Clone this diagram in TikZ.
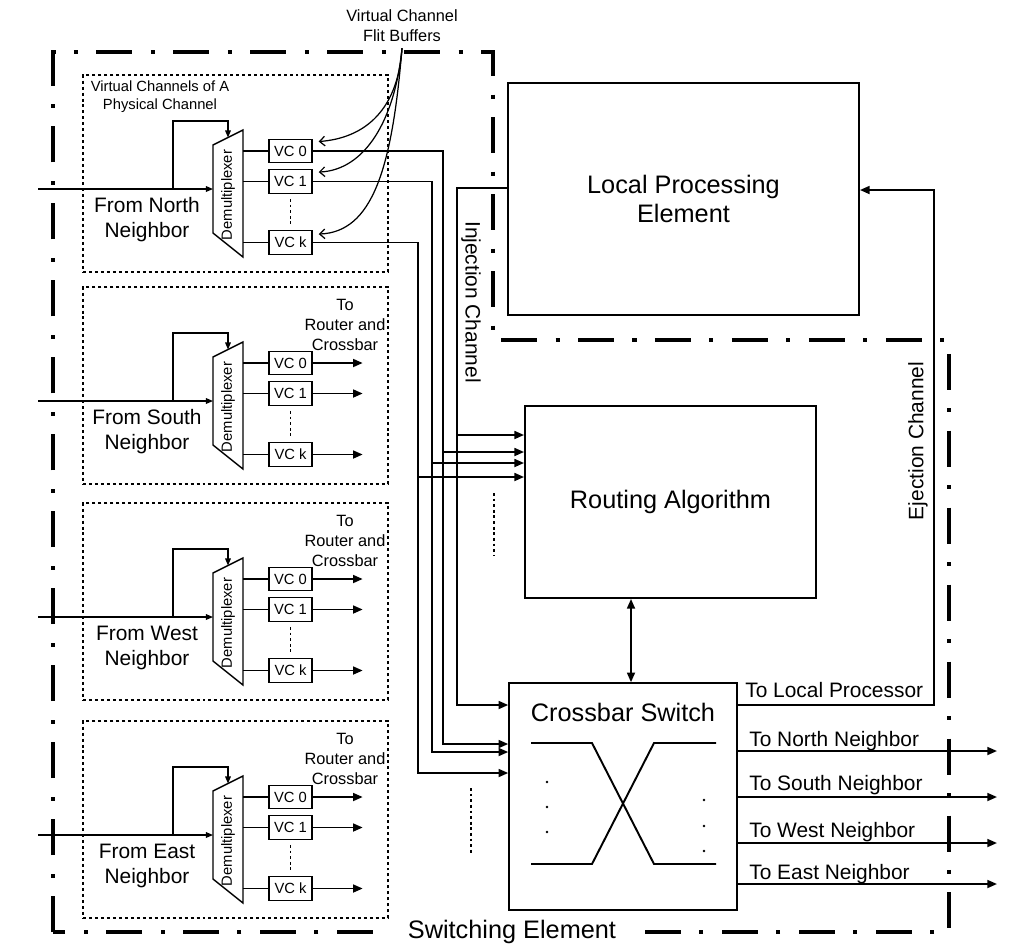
\documentclass[tikz,border=0pt]{standalone}
\usepackage{fontspec}
\setmainfont{Liberation Sans}
\usepackage{tikz}
\usetikzlibrary{arrows.meta,calc}
\newcommand{\fsBig}{\fontsize{14.4}{16.5}\selectfont}
\newcommand{\fsMid}{\fontsize{11.9}{14.2}\selectfont}
\newcommand{\fsLbl}{\fontsize{9.3}{11.4}\selectfont}
\newcommand{\fsVC}{\fontsize{8.4}{10.2}\selectfont}
\tikzset{
  >={Triangle[length=5.5pt,width=4.5pt]},
  unit/.style={draw, line width=1.1pt},
  nbbox/.style={draw, line width=1.1pt, dash pattern=on 1.7pt off 1.7pt,
    minimum width=6.1cm, minimum height=3.94cm},
  vcbox/.style={draw, line width=0.8pt, minimum width=0.86cm, minimum height=0.47cm,
    inner sep=0pt, font=\fsVC},
  wire/.style={line width=1.1pt},
  thinwire/.style={line width=0.7pt},
  smalltip/.style={-{Triangle[length=4pt,width=3.2pt]}},
  dotline/.style={line width=1.1pt, dash pattern=on 1.6pt off 1.6pt},
  seline/.style={line width=2.3pt, dash pattern=on 20.5pt off 10.5pt on 2.3pt off 10.5pt}
}

\begin{document}
\begin{tikzpicture}[x=0.02cm, y=-0.02cm]
  \useasboundingbox (0,0) rectangle (1011,947);

  % switching element border
  \draw[seline] (53,932) -- (53,52) -- (493,52) -- (493,340) -- (949,340) -- (949,932) -- cycle;
  \node[fill=white, font=\fsBig, inner xsep=0.5cm, inner ysep=1pt] (se-lbl) at (512,932) {Switching Element};

  % input ports
  \foreach \T/\d/\nm in {75/n/North, 287/s/South, 503/w/West, 721/e/East} {
    \begin{scope}[shift={(0,\T)}]
      \node[nbbox] (box-\d) at (235.5,98.5) {};
      \draw[line width=0.8pt] (213,70) -- (243,55) -- (243,182) -- (213,158) -- cycle;
      \node[rotate=90, font=\fsVC] (dmx-\d) at (228,120) {Demultiplexer};
      \coordinate (src-\d) at (38,114);
      \coordinate (in-\d) at (213,114);
      \coordinate (sel-\d) at (228,62.5);
      \node[vcbox] (vc0-\d) at (290.5,76) {VC 0};
      \node[vcbox] (vc1-\d) at (290.5,106.5) {VC 1};
      \node[vcbox] (vck-\d) at (290.5,167.5) {VC k};
      \node[font=\fsMid, align=center] (from-\d) at (147,145) {From \nm\\Neighbor};
      \draw[thinwire, smalltip] (src-\d) -- (in-\d);
      \draw[thinwire, smalltip] (173,114) |- (228,46) -- (sel-\d);
      \foreach \v in {vc0,vc1,vck}
        \draw[wire] (\v-\d.west -| 243,0) -- (\v-\d.west);
      \draw[dotline, shorten <=0.1cm, shorten >=0.1cm] (vc1-\d.south) -- (vck-\d.north);
    \end{scope}
  }
  \foreach \T/\d in {287/s, 503/w, 721/e} {
    \foreach \v in {vc0,vc1,vck}
      \draw[wire, ->] (\v-\d.east) -- ++(50,0);
    \node[font=\fsLbl, align=center] (to-rc-\d) at (345,\T+38) {To\\Router and\\Crossbar};
  }
  \node[font=\fsVC, align=center] (vc-phys) at (160,97) {Virtual Channels of A\\Physical Channel};

  % flit buffer callout
  \node[font=\fsLbl, align=center] (vcfb) at (402,26) {Virtual Channel\\Flit Buffers};
  \draw[thinwire, -{Straight Barb[length=3pt,width=5.5pt]}] (vcfb.south) .. controls (398,110) and (365,138) .. ([shift={(6,3)}]vc0-n.north east);
  \draw[thinwire, -{Straight Barb[length=3pt,width=5.5pt]}] (vcfb.south) .. controls (395,120) and (365,170) .. ([shift={(6,3)}]vc1-n.north east);
  \draw[thinwire, -{Straight Barb[length=3pt,width=5.5pt]}] (vcfb.south) .. controls (392,170) and (372,232) .. ([shift={(6,4)}]vck-n.north east);

  % local PE, router, crossbar
  \node[unit, minimum width=7.02cm, minimum height=4.64cm, align=center, font=\fsBig] (lpe) at (683.5,199) {Local Processing\\Element};
  \node[unit, minimum width=5.82cm, minimum height=3.84cm, font=\fsBig] (route) at (670.5,502) {Routing Algorithm};
  \node[draw, line width=0.9pt, minimum width=4.56cm, minimum height=4.54cm] (xbar) at (623,796.5) {};
  \node[font=\fsBig] (xbar-lbl) at (623,712) {Crossbar Switch};
  \draw[wire] (531,743) -- (592,743) -- (654,864) -- (716,864);
  \draw[wire] (531,864) -- (592,864) -- (654,743) -- (716,743);
  \foreach \y in {782,807,832} \fill (547,\y) circle (1.3);
  \foreach \y in {800,826,851} \fill (704,\y) circle (1.3);
  \draw[wire, <->] (route.south -| 631,0) -- (xbar.north -| 631,0);

  % injection and north channels
  \draw[wire, ->] (lpe.west |- 0,188) -| (457,705) -- (xbar.west |- 0,705);
  \draw[wire, ->] (vc0-n.east) -| (443,744) -- (xbar.west |- 0,744);
  \draw[wire, ->] (vc1-n.east) -| (432,752) -- (xbar.west |- 0,752);
  \draw[wire, ->] (vck-n.east) -| (418,773) -- (xbar.west |- 0,773);
  \foreach \x/\y in {457/435, 443/452, 432/463, 418/477}
    \draw[wire, ->] (\x,\y) -- (route.west |- 0,\y);
  \draw[dotline] (494,493) -- (494,556);
  \draw[dotline] (471,788) -- (471,853);
  \node[rotate=-90, font=\fsMid] (inj-lbl) at (471,302) {Injection Channel};

  % ejection and outputs
  \draw[wire, ->] (xbar.east |- 0,705) -| (934,190) -- (lpe.east |- 0,190);
  \node[anchor=base west, font=\fsMid, inner sep=0pt] (to-lp) at (745,697) {To Local Processor};
  \node[rotate=90, font=\fsMid] (ej-lbl) at (918,441) {Ejection Channel};
  \foreach \y/\b/\nm in {751/746/North, 797/790/South, 843/837/West, 884/879/East} {
    \draw[wire, ->] (xbar.east |- 0,\y) -- (997,\y);
    \node[anchor=base west, font=\fsMid, inner sep=0pt] (to-\nm) at (749,\b) {To \nm{} Neighbor};
  }
\end{tikzpicture}
\end{document}
